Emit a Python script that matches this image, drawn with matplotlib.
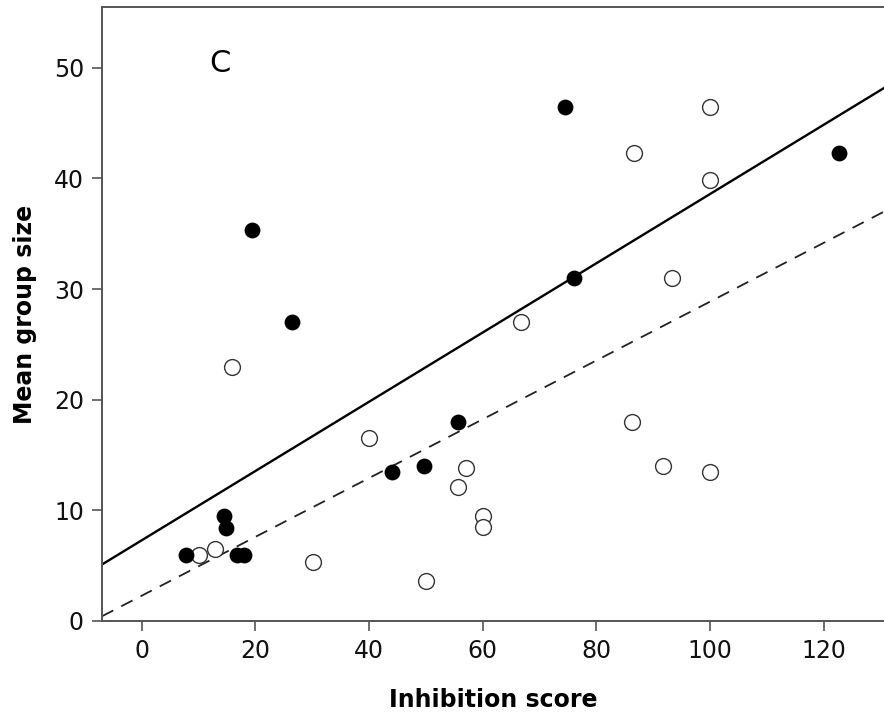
import numpy as np
import matplotlib.pyplot as plt

# group A (filled markers)
x_filled = [7.8, 14.5, 14.8, 16.7, 18.0, 19.4, 26.5, 44.0, 49.7, 55.6, 74.5, 76.1, 122.7]
y_filled = [6.0, 9.5, 8.4, 6.0, 6.0, 35.3, 27.0, 13.5, 14.0, 18.0, 46.5, 31.0, 42.3]

# group B (open markers)
x_open = [10.1, 12.9, 15.9, 30.1, 40.0, 50.0, 55.6, 57.1, 60.0, 60.0, 66.8,
          86.3, 86.6, 91.7, 93.3, 100.0, 100.0, 100.0]
y_open = [6.0, 6.5, 23.0, 5.3, 16.5, 3.6, 12.1, 13.8, 9.5, 8.5, 27.0,
          18.0, 42.3, 14.0, 31.0, 46.5, 39.9, 13.5]

# fitted lines: (intercept, slope)
fit_solid = (7.3, 0.313)
fit_dashed = (2.29, 0.2658)

xlim = (-7.0, 130.6)
ylim = (0, 55.5)

fig = plt.figure(figsize=(8.84, 7.17), dpi=100)
ax = fig.add_axes([0.1154, 0.1339, 0.8846, 0.8563])

xs = np.array(xlim)
ax.plot(xs, fit_solid[0] + fit_solid[1] * xs, color='black', lw=1.7, zorder=2)
ax.plot(xs, fit_dashed[0] + fit_dashed[1] * xs, color='#222222', lw=1.3,
        dashes=(7, 5), zorder=2)

ax.scatter(x_open, y_open, s=130, facecolors='white', edgecolors='#333333',
           linewidths=1.0, zorder=3)
ax.scatter(x_filled, y_filled, s=130, color='black', linewidths=0, zorder=4)

ax.set_xlim(*xlim)
ax.set_ylim(*ylim)
ax.set_xticks(range(0, 121, 20))
ax.set_yticks(range(0, 51, 10))

for side in ['left', 'bottom', 'top']:
    ax.spines[side].set_color('#555555')
    ax.spines[side].set_linewidth(1.4)
ax.spines['right'].set_visible(False)
ax.tick_params(direction='out', length=7, width=1.2, color='#555555',
               labelsize=17, labelcolor='#111111', pad=6)

ax.set_xlabel('Inhibition score', fontsize=17, fontweight='bold', labelpad=18)
ax.set_ylabel('Mean group size', fontsize=17, fontweight='bold', labelpad=12)

ax.text(13.8, 50.4, 'C', fontsize=22, ha='center', va='center')

fig.savefig('out.png', dpi=100)
